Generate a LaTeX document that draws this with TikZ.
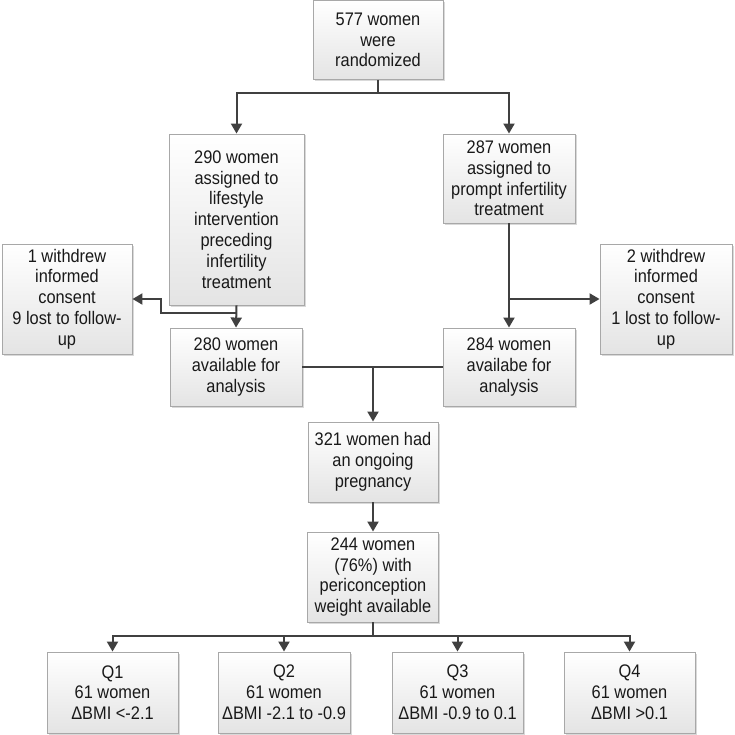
\documentclass[tikz,border=0pt]{standalone}
\usepackage{fontspec}
\setmainfont{Liberation Sans}[FakeStretch=0.9]
\usetikzlibrary{arrows.meta,shadows,calc}
\definecolor{linec}{HTML}{404040}
\definecolor{boxborder}{HTML}{A8A8A8}
\definecolor{boxbot}{HTML}{E4E4E4}
\tikzset{
  box/.style={draw=boxborder, line width=0.9pt, top color=white, bottom color=boxbot,
    align=center, inner sep=0pt, text=black!90,
    font=\fontsize{18.2}{20.8}\selectfont,
    drop shadow={shadow xshift=1.5pt, shadow yshift=-1.5pt, opacity=0.25, fill=black!60}},
  conn/.style={draw=linec, line width=2pt},
  arr/.style={conn, -{Triangle[width=11pt,length=10pt]}},
}
\begin{document}
\begin{tikzpicture}[x=1pt,y=-1pt]
\useasboundingbox (0,0) rectangle (734,735);
% boxes
\node[box, minimum width=130pt, minimum height=79pt] (top) at (378,40) {577 women\\were\\randomized};
\node[box, minimum width=135pt, minimum height=171pt] (lif) at (236.5,219.5) {290 women\\assigned to\\lifestyle\\intervention\\preceding\\infertility\\treatment};
\node[box, minimum width=132pt, minimum height=89pt] (prm) at (509,178.5) {287 women\\assigned to\\prompt infertility\\treatment};
\node[box, minimum width=130pt, minimum height=110pt] (wl) at (67,299) {1 withdrew\\informed\\consent\\9 lost to follow-\\up};
\node[box, minimum width=132pt, minimum height=110pt] (wr) at (666,299) {2 withdrew\\informed\\consent\\1 lost to follow-\\up};
\node[box, minimum width=132pt, minimum height=78pt] (a280) at (236,367) {280 women\\available for\\analysis};
\node[box, minimum width=132pt, minimum height=78pt] (a284) at (509,367) {284 women\\availabe for\\analysis};
\node[box, minimum width=130pt, minimum height=80pt] (p321) at (373,462) {321 women had\\an ongoing\\pregnancy};
\node[box, minimum width=131pt, minimum height=90pt] (w244) at (373,577) {244 women\\(76\%) with\\periconception\\weight available};
\node[box, minimum width=131pt, minimum height=81pt] (q1) at (112.5,692.5) {Q1\\61 women\\ΔBMI <-2.1};
\node[box, minimum width=132pt, minimum height=81pt] (q2) at (284,692.5) {Q2\\61 women\\ΔBMI -2.1 to -0.9};
\node[box, minimum width=131pt, minimum height=81pt] (q3) at (457.5,692.5) {Q3\\61 women\\ΔBMI -0.9 to 0.1};
\node[box, minimum width=131pt, minimum height=81pt] (q4) at (629.5,692.5) {Q4\\61 women\\ΔBMI >0.1};
% connectors
\coordinate (split1) at ($(top.south)+(0,13)$);
\draw[arr] (top.south) -- (split1) -| (lif.north);
\draw[arr] (split1) -| (prm.north);
\draw[arr] (lif.south) -- (a280.north);
\coordinate (el) at ($(lif.south)+(0,8)$);
\draw[arr] (el) -- ++(-76,0) |- (wl.east);
\draw[arr] (prm.south) -- (a284.north);
\draw[arr] (prm.south |- wr.west) -- (wr.west);
\draw[conn] (a280.east) -- (a284.west);
\draw[arr] (a280.east -| p321.north) -- (p321.north);
\draw[arr] (p321.south) -- (w244.north);
\coordinate (split2) at ($(w244.south)+(0,14)$);
\draw[conn] (w244.south) -- (split2);
\draw[arr] (split2) -| (q1.north);
\draw[arr] (split2) -| (q2.north);
\draw[arr] (split2) -| (q3.north);
\draw[arr] (split2) -| (q4.north);
\end{tikzpicture}
\end{document}
